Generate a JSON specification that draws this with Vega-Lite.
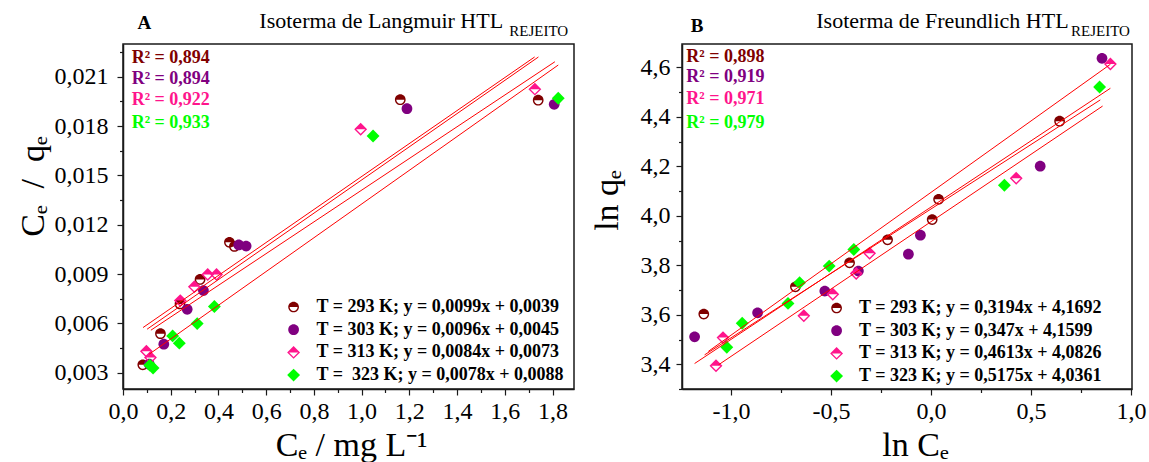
{
  "$schema": "https://vega.github.io/schema/vega-lite/v6.json",
  "background": "white",
  "padding": {"left": 15, "top": 9, "right": 5, "bottom": 0},
  "spacing": 14,
  "config": {
    "font": "Liberation Serif",
    "view": {"stroke": "#1a1a1a", "strokeWidth": 1.5},
    "axis": {"labelFont": "Liberation Serif", "labelFontSize": 24, "labelColor": "#000", "titleFont": "Liberation Serif", "titleFontSize": 34, "titleFontWeight": "normal", "titleColor": "#000", "tickColor": "#1a1a1a", "domainColor": "#1a1a1a", "domainWidth": 1.5, "tickWidth": 1.2, "grid": false, "labelOverlap": false, "labelFlush": false, "tickSize": 6}
  },
  "datasets": {
    "langmuir": [
      {"T": "293 K", "x": 0.083, "y": 0.00347}, {"T": "293 K", "x": 0.157, "y": 0.00537}, {"T": "293 K", "x": 0.239, "y": 0.00718}, {"T": "293 K", "x": 0.323, "y": 0.00867},
      {"T": "293 K", "x": 0.446, "y": 0.01093}, {"T": "293 K", "x": 0.467, "y": 0.01068}, {"T": "293 K", "x": 1.162, "y": 0.01961}, {"T": "293 K", "x": 1.740, "y": 0.01958},
      {"T": "303 K", "x": 0.110, "y": 0.00351}, {"T": "303 K", "x": 0.171, "y": 0.00473}, {"T": "303 K", "x": 0.269, "y": 0.00685}, {"T": "303 K", "x": 0.337, "y": 0.00799},
      {"T": "303 K", "x": 0.485, "y": 0.01077}, {"T": "303 K", "x": 0.516, "y": 0.0107}, {"T": "303 K", "x": 1.190, "y": 0.01906}, {"T": "303 K", "x": 1.807, "y": 0.01933},
      {"T": "313 K", "x": 0.098, "y": 0.0043}, {"T": "313 K", "x": 0.115, "y": 0.00392}, {"T": "313 K", "x": 0.240, "y": 0.00738}, {"T": "313 K", "x": 0.299, "y": 0.00823},
      {"T": "313 K", "x": 0.355, "y": 0.00897}, {"T": "313 K", "x": 0.392, "y": 0.00897}, {"T": "313 K", "x": 0.996, "y": 0.01781}, {"T": "313 K", "x": 1.726, "y": 0.02025},
      {"T": "323 K", "x": 0.112, "y": 0.00345}, {"T": "323 K", "x": 0.126, "y": 0.00328}, {"T": "323 K", "x": 0.208, "y": 0.00523}, {"T": "323 K", "x": 0.236, "y": 0.00479},
      {"T": "323 K", "x": 0.311, "y": 0.00598}, {"T": "323 K", "x": 0.383, "y": 0.00702}, {"T": "323 K", "x": 1.048, "y": 0.0174}, {"T": "323 K", "x": 1.824, "y": 0.0197}
    ],
    "freundlich": [
      {"T": "293 K", "x": -1.136, "y": 3.603}, {"T": "293 K", "x": -0.678, "y": 3.713}, {"T": "293 K", "x": -0.407, "y": 3.810}, {"T": "293 K", "x": -0.217, "y": 3.903},
      {"T": "293 K", "x": 0.006, "y": 3.985}, {"T": "293 K", "x": 0.038, "y": 4.067}, {"T": "293 K", "x": 0.643, "y": 4.383},
      {"T": "303 K", "x": -1.182, "y": 3.511}, {"T": "303 K", "x": -0.867, "y": 3.608}, {"T": "303 K", "x": -0.531, "y": 3.696}, {"T": "303 K", "x": -0.363, "y": 3.777},
      {"T": "303 K", "x": -0.113, "y": 3.845}, {"T": "303 K", "x": -0.053, "y": 3.922}, {"T": "303 K", "x": 0.546, "y": 4.201}, {"T": "303 K", "x": 0.855, "y": 4.637},
      {"T": "313 K", "x": -1.075, "y": 3.394}, {"T": "313 K", "x": -1.04, "y": 3.508}, {"T": "313 K", "x": -0.636, "y": 3.596}, {"T": "313 K", "x": -0.491, "y": 3.683},
      {"T": "313 K", "x": -0.374, "y": 3.767}, {"T": "313 K", "x": -0.307, "y": 3.849}, {"T": "313 K", "x": 0.426, "y": 4.152}, {"T": "313 K", "x": 0.897, "y": 4.614},
      {"T": "323 K", "x": -1.021, "y": 3.469}, {"T": "323 K", "x": -0.944, "y": 3.566}, {"T": "323 K", "x": -0.715, "y": 3.646}, {"T": "323 K", "x": -0.657, "y": 3.730},
      {"T": "323 K", "x": -0.509, "y": 3.797}, {"T": "323 K", "x": -0.386, "y": 3.864}, {"T": "323 K", "x": 0.367, "y": 4.124}, {"T": "323 K", "x": 0.843, "y": 4.521}
    ],
    "fitA": [
      {"fit": "293 K", "x": 0.084, "y": 0.00574}, {"fit": "293 K", "x": 1.725, "y": 0.02221},
      {"fit": "313 K", "x": 0.101, "y": 0.00564}, {"fit": "313 K", "x": 1.741, "y": 0.02221},
      {"fit": "303 K", "x": 0.117, "y": 0.00558}, {"fit": "303 K", "x": 1.810, "y": 0.02192},
      {"fit": "323 K", "x": 0.110, "y": 0.00412}, {"fit": "323 K", "x": 1.824, "y": 0.02172}
    ],
    "fitB": [
      {"fit": "303 K", "x": -1.1135, "y": 3.452}, {"fit": "303 K", "x": 0.897, "y": 4.613},
      {"fit": "293 K", "x": -1.182, "y": 3.403}, {"fit": "293 K", "x": 0.897, "y": 4.516},
      {"fit": "323 K", "x": -1.132, "y": 3.438}, {"fit": "323 K", "x": 0.8465, "y": 4.469},
      {"fit": "313 K", "x": -1.062, "y": 3.398}, {"fit": "313 K", "x": 0.858, "y": 4.444}
    ],
    "legA": [
      {"T": "293 K", "label": "T = 293 K; y = 0,0099x + 0,0039", "r2": "R² = 0,894"},
      {"T": "303 K", "label": "T = 303 K; y = 0,0096x + 0,0045", "r2": "R² = 0,894"},
      {"T": "313 K", "label": "T = 313 K; y = 0,0084x + 0,0073", "r2": "R² = 0,922"},
      {"T": "323 K", "label": "T =\u00a0 323 K; y = 0,0078x + 0,0088", "r2": "R² = 0,933"}
    ],
    "legB": [
      {"T": "293 K", "label": "T = 293 K; y = 0,3194x + 4,1692", "r2": "R² = 0,898"},
      {"T": "303 K", "label": "T = 303 K; y = 0,347x + 4,1599", "r2": "R² = 0,919"},
      {"T": "313 K", "label": "T = 313 K; y = 0,4613x + 4,0826", "r2": "R² = 0,971"},
      {"T": "323 K", "label": "T = 323 K; y = 0,5175x + 4,0361", "r2": "R² = 0,979"}
    ],
    "ttl": [
      {"panel": "A", "letter": "A", "title": "Isoterma de Langmuir HTL", "sub": "REJEITO"},
      {"panel": "B", "letter": "B", "title": "Isoterma de Freundlich HTL", "sub": "REJEITO"}
    ]
  },
  "resolve": {"scale": {"x": "independent", "y": "independent", "color": "independent", "shape": "independent"}, "legend": {"color": "independent", "shape": "independent"}},
  "hconcat": [
    {
      "width": 451, "height": 345,
      "resolve": {"axis": {"x": "independent", "y": "independent"}},
      "layer": [
        {
          "data": {"name": "langmuir"},
          "transform": [{"lookup": "T", "from": {"data": {"name": "legA"}, "key": "T", "fields": ["label"]}}],
          "mark": {"type": "point", "filled": true, "size": 115, "opacity": 1, "strokeWidth": 0},
          "encoding": {
            "x": {"field": "x", "type": "quantitative", "scale": {"domain": [0, 1.89], "nice": false, "zero": false},
                  "axis": {"values": [0, 0.2, 0.4, 0.6, 0.8, 1.0, 1.2, 1.4, 1.6, 1.8], "labelExpr": "replace(format(datum.value, '.1f'), '.', ',')", "title": "Cₑ\u00a0/ mg L⁻¹", "labelPadding": 4, "titlePadding": 5, "titleX": 228}},
            "y": {"field": "y", "type": "quantitative", "scale": {"domain": [0.002, 0.023], "nice": false, "zero": false},
                  "axis": {"values": [0.003, 0.006, 0.009, 0.012, 0.015, 0.018, 0.021], "labelExpr": "replace(format(datum.value, '.3f'), '.', ',')", "title": "Cₑ\u00a0 / \u00a0qₑ", "labelPadding": 9, "titlePadding": 4, "titleY": 142}},
            "color": {"field": "label", "type": "nominal",
                      "scale": {"domain": ["T = 293 K; y = 0,0099x + 0,0039", "T = 303 K; y = 0,0096x + 0,0045", "T = 313 K; y = 0,0084x + 0,0073", "T =\u00a0 323 K; y = 0,0078x + 0,0088"], "range": ["#800000", "#800080", "#FF148C", "#00FF00"]},
                      "legend": {"title": null, "orient": "none", "legendX": 161.6, "legendY": 254, "labelFont": "Liberation Serif", "labelFontSize": 18, "labelFontWeight": "bold", "labelColor": "#000", "labelLimit": 600, "labelOffset": 14, "rowPadding": 4.7, "symbolSize": 115, "symbolStrokeWidth": 0, "padding": 0}},
            "shape": {"field": "label", "type": "nominal",
                      "scale": {"domain": ["T = 293 K; y = 0,0099x + 0,0039", "T = 303 K; y = 0,0096x + 0,0045", "T = 313 K; y = 0,0084x + 0,0073", "T =\u00a0 323 K; y = 0,0078x + 0,0088"],
                                "range": ["M-1,0A1,1,0,0,1,1,0Z M1,0A1,1,0,0,1,-1,0L-0.74,0A0.74,0.74,0,0,0,0.74,0Z", "M-1,0A1,1,0,1,1,1,0A1,1,0,1,1,-1,0Z", "M-1.2,0L0,-1.2L1.2,0Z M1.2,0L0,1.2L-1.2,0L-0.84,0L0,0.84L0.84,0Z", "M0,-1.2L1.2,0L0,1.2L-1.2,0Z"]},
                      "legend": {"title": null, "orient": "none", "legendX": 161.6, "legendY": 254, "labelFont": "Liberation Serif", "labelFontSize": 18, "labelFontWeight": "bold", "labelColor": "#000", "labelLimit": 600, "labelOffset": 14, "rowPadding": 4.7, "symbolSize": 115, "symbolStrokeWidth": 0, "padding": 0}}
          }
        },
        {
          "data": {"name": "fitA"},
          "mark": {"type": "line", "color": "#FF0000", "strokeWidth": 1},
          "encoding": {
            "x": {"field": "x", "type": "quantitative", "scale": {"domain": [0, 1.89], "nice": false, "zero": false},
                  "axis": {"orient": "bottom", "values": [0.1, 0.3, 0.5, 0.7, 0.9, 1.1, 1.3, 1.5, 1.7], "labels": false, "domain": false, "tickSize": 3.5, "title": null}},
            "y": {"field": "y", "type": "quantitative", "scale": {"domain": [0.002, 0.023], "nice": false, "zero": false},
                  "axis": {"orient": "left", "values": [0.0045, 0.0075, 0.0105, 0.0135, 0.0165, 0.0195, 0.0225], "labels": false, "domain": false, "tickSize": 3.5, "title": null}},
            "detail": {"field": "fit"}
          }
        },
        {
          "data": {"name": "legA"}, "transform": [{"filter": "datum.T == '293 K'"}],
          "mark": {"type": "text", "align": "left", "baseline": "middle", "font": "Liberation Serif", "fontSize": 18, "fontWeight": "bold", "color": "#800000"},
          "encoding": {"x": {"datum": 0.0365, "type": "quantitative", "scale": {"domain": [0, 1.89], "nice": false, "zero": false}, "axis": null},
                       "y": {"datum": 0.02217, "type": "quantitative", "scale": {"domain": [0.002, 0.023], "nice": false, "zero": false}, "axis": null},
                       "text": {"field": "r2"}}
        },
        {
          "data": {"name": "legA"}, "transform": [{"filter": "datum.T == '303 K'"}],
          "mark": {"type": "text", "align": "left", "baseline": "middle", "font": "Liberation Serif", "fontSize": 18, "fontWeight": "bold", "color": "#800080"},
          "encoding": {"x": {"datum": 0.0365, "type": "quantitative", "scale": {"domain": [0, 1.89], "nice": false, "zero": false}, "axis": null},
                       "y": {"datum": 0.0209, "type": "quantitative", "scale": {"domain": [0.002, 0.023], "nice": false, "zero": false}, "axis": null},
                       "text": {"field": "r2"}}
        },
        {
          "data": {"name": "legA"}, "transform": [{"filter": "datum.T == '313 K'"}],
          "mark": {"type": "text", "align": "left", "baseline": "middle", "font": "Liberation Serif", "fontSize": 18, "fontWeight": "bold", "color": "#FF148C"},
          "encoding": {"x": {"datum": 0.0365, "type": "quantitative", "scale": {"domain": [0, 1.89], "nice": false, "zero": false}, "axis": null},
                       "y": {"datum": 0.01959, "type": "quantitative", "scale": {"domain": [0.002, 0.023], "nice": false, "zero": false}, "axis": null},
                       "text": {"field": "r2"}}
        },
        {
          "data": {"name": "legA"}, "transform": [{"filter": "datum.T == '323 K'"}],
          "mark": {"type": "text", "align": "left", "baseline": "middle", "font": "Liberation Serif", "fontSize": 18, "fontWeight": "bold", "color": "#00FF00"},
          "encoding": {"x": {"datum": 0.0365, "type": "quantitative", "scale": {"domain": [0, 1.89], "nice": false, "zero": false}, "axis": null},
                       "y": {"datum": 0.01821, "type": "quantitative", "scale": {"domain": [0.002, 0.023], "nice": false, "zero": false}, "axis": null},
                       "text": {"field": "r2"}}
        },
        {
          "data": {"name": "ttl"}, "transform": [{"filter": "datum.panel == 'A'"}],
          "mark": {"type": "text", "align": "center", "baseline": "middle", "font": "Liberation Serif", "fontSize": 19, "fontWeight": "bold", "color": "#000"},
          "encoding": {"x": {"datum": 0.089, "type": "quantitative", "scale": {"domain": [0, 1.89], "nice": false, "zero": false}, "axis": null},
                       "y": {"datum": 0.0243, "type": "quantitative", "scale": {"domain": [0.002, 0.023], "nice": false, "zero": false}, "axis": null},
                       "text": {"field": "letter"}}
        },
        {
          "data": {"name": "ttl"}, "transform": [{"filter": "datum.panel == 'A'"}],
          "mark": {"type": "text", "align": "right", "baseline": "middle", "font": "Liberation Serif", "fontSize": 22, "color": "#000"},
          "encoding": {"x": {"datum": 1.593, "type": "quantitative", "scale": {"domain": [0, 1.89], "nice": false, "zero": false}, "axis": null},
                       "y": {"datum": 0.0244, "type": "quantitative", "scale": {"domain": [0.002, 0.023], "nice": false, "zero": false}, "axis": null},
                       "text": {"field": "title"}}
        },
        {
          "data": {"name": "ttl"}, "transform": [{"filter": "datum.panel == 'A'"}],
          "mark": {"type": "text", "align": "left", "baseline": "middle", "font": "Liberation Serif", "fontSize": 15, "color": "#000"},
          "encoding": {"x": {"datum": 1.6185, "type": "quantitative", "scale": {"domain": [0, 1.89], "nice": false, "zero": false}, "axis": null},
                       "y": {"datum": 0.0238, "type": "quantitative", "scale": {"domain": [0.002, 0.023], "nice": false, "zero": false}, "axis": null},
                       "text": {"field": "sub"}}
        }
      ]
    },
    {
      "width": 450, "height": 345,
      "resolve": {"axis": {"x": "independent", "y": "independent"}},
      "layer": [
        {
          "data": {"name": "freundlich"},
          "transform": [{"lookup": "T", "from": {"data": {"name": "legB"}, "key": "T", "fields": ["label"]}}],
          "mark": {"type": "point", "filled": true, "size": 115, "opacity": 1, "strokeWidth": 0},
          "encoding": {
            "x": {"field": "x", "type": "quantitative", "scale": {"domain": [-1.245, 1.005], "nice": false, "zero": false},
                  "axis": {"values": [-1.0, -0.5, 0.0, 0.5, 1.0], "labelExpr": "replace(replace(format(datum.value, '.1f'), '.', ','), '−', '-')", "title": "ln Cₑ", "labelPadding": 4, "titlePadding": 5, "titleX": 233}},
            "y": {"field": "y", "type": "quantitative", "scale": {"domain": [3.3, 4.695], "nice": false, "zero": false},
                  "axis": {"values": [3.4, 3.6, 3.8, 4.0, 4.2, 4.4, 4.6], "labelExpr": "replace(format(datum.value, '.1f'), '.', ',')", "title": "ln qₑ", "labelPadding": 6, "titlePadding": 16, "titleY": 156}},
            "color": {"field": "label", "type": "nominal",
                      "scale": {"domain": ["T = 293 K; y = 0,3194x + 4,1692", "T = 303 K; y = 0,347x + 4,1599", "T = 313 K; y = 0,4613x + 4,0826", "T = 323 K; y = 0,5175x + 4,0361"], "range": ["#800000", "#800080", "#FF148C", "#00FF00"]},
                      "legend": {"title": null, "orient": "none", "legendX": 145.6, "legendY": 255, "labelFont": "Liberation Serif", "labelFontSize": 18, "labelFontWeight": "bold", "labelColor": "#000", "labelLimit": 600, "labelOffset": 13.5, "rowPadding": 4.7, "symbolSize": 115, "symbolStrokeWidth": 0, "padding": 0}},
            "shape": {"field": "label", "type": "nominal",
                      "scale": {"domain": ["T = 293 K; y = 0,3194x + 4,1692", "T = 303 K; y = 0,347x + 4,1599", "T = 313 K; y = 0,4613x + 4,0826", "T = 323 K; y = 0,5175x + 4,0361"],
                                "range": ["M-1,0A1,1,0,0,1,1,0Z M1,0A1,1,0,0,1,-1,0L-0.74,0A0.74,0.74,0,0,0,0.74,0Z", "M-1,0A1,1,0,1,1,1,0A1,1,0,1,1,-1,0Z", "M-1.2,0L0,-1.2L1.2,0Z M1.2,0L0,1.2L-1.2,0L-0.84,0L0,0.84L0.84,0Z", "M0,-1.2L1.2,0L0,1.2L-1.2,0Z"]},
                      "legend": {"title": null, "orient": "none", "legendX": 145.6, "legendY": 255, "labelFont": "Liberation Serif", "labelFontSize": 18, "labelFontWeight": "bold", "labelColor": "#000", "labelLimit": 600, "labelOffset": 13.5, "rowPadding": 4.7, "symbolSize": 115, "symbolStrokeWidth": 0, "padding": 0}}
          }
        },
        {
          "data": {"name": "fitB"},
          "mark": {"type": "line", "color": "#FF0000", "strokeWidth": 1},
          "encoding": {
            "x": {"field": "x", "type": "quantitative", "scale": {"domain": [-1.245, 1.005], "nice": false, "zero": false},
                  "axis": {"orient": "bottom", "values": [-0.75, -0.25, 0.25, 0.75], "labels": false, "domain": false, "tickSize": 3.5, "title": null}},
            "y": {"field": "y", "type": "quantitative", "scale": {"domain": [3.3, 4.695], "nice": false, "zero": false},
                  "axis": {"orient": "left", "values": [3.3, 3.5, 3.7, 3.9, 4.1, 4.3, 4.5], "labels": false, "domain": false, "tickSize": 3.5, "title": null}},
            "detail": {"field": "fit"}
          }
        },
        {
          "data": {"name": "legB"}, "transform": [{"filter": "datum.T == '293 K'"}],
          "mark": {"type": "text", "align": "left", "baseline": "middle", "font": "Liberation Serif", "fontSize": 18, "fontWeight": "bold", "color": "#800000"},
          "encoding": {"x": {"datum": -1.2235, "type": "quantitative", "scale": {"domain": [-1.245, 1.005], "nice": false, "zero": false}, "axis": null},
                       "y": {"datum": 4.642, "type": "quantitative", "scale": {"domain": [3.3, 4.695], "nice": false, "zero": false}, "axis": null},
                       "text": {"field": "r2"}}
        },
        {
          "data": {"name": "legB"}, "transform": [{"filter": "datum.T == '303 K'"}],
          "mark": {"type": "text", "align": "left", "baseline": "middle", "font": "Liberation Serif", "fontSize": 18, "fontWeight": "bold", "color": "#800080"},
          "encoding": {"x": {"datum": -1.2235, "type": "quantitative", "scale": {"domain": [-1.245, 1.005], "nice": false, "zero": false}, "axis": null},
                       "y": {"datum": 4.562, "type": "quantitative", "scale": {"domain": [3.3, 4.695], "nice": false, "zero": false}, "axis": null},
                       "text": {"field": "r2"}}
        },
        {
          "data": {"name": "legB"}, "transform": [{"filter": "datum.T == '313 K'"}],
          "mark": {"type": "text", "align": "left", "baseline": "middle", "font": "Liberation Serif", "fontSize": 18, "fontWeight": "bold", "color": "#FF148C"},
          "encoding": {"x": {"datum": -1.2235, "type": "quantitative", "scale": {"domain": [-1.245, 1.005], "nice": false, "zero": false}, "axis": null},
                       "y": {"datum": 4.472, "type": "quantitative", "scale": {"domain": [3.3, 4.695], "nice": false, "zero": false}, "axis": null},
                       "text": {"field": "r2"}}
        },
        {
          "data": {"name": "legB"}, "transform": [{"filter": "datum.T == '323 K'"}],
          "mark": {"type": "text", "align": "left", "baseline": "middle", "font": "Liberation Serif", "fontSize": 18, "fontWeight": "bold", "color": "#00FF00"},
          "encoding": {"x": {"datum": -1.2235, "type": "quantitative", "scale": {"domain": [-1.245, 1.005], "nice": false, "zero": false}, "axis": null},
                       "y": {"datum": 4.377, "type": "quantitative", "scale": {"domain": [3.3, 4.695], "nice": false, "zero": false}, "axis": null},
                       "text": {"field": "r2"}}
        },
        {
          "data": {"name": "ttl"}, "transform": [{"filter": "datum.panel == 'B'"}],
          "mark": {"type": "text", "align": "center", "baseline": "middle", "font": "Liberation Serif", "fontSize": 19, "fontWeight": "bold", "color": "#000"},
          "encoding": {"x": {"datum": -1.17, "type": "quantitative", "scale": {"domain": [-1.245, 1.005], "nice": false, "zero": false}, "axis": null},
                       "y": {"datum": 4.768, "type": "quantitative", "scale": {"domain": [3.3, 4.695], "nice": false, "zero": false}, "axis": null},
                       "text": {"field": "letter"}}
        },
        {
          "data": {"name": "ttl"}, "transform": [{"filter": "datum.panel == 'B'"}],
          "mark": {"type": "text", "align": "right", "baseline": "middle", "font": "Liberation Serif", "fontSize": 22, "color": "#000"},
          "encoding": {"x": {"datum": 0.688, "type": "quantitative", "scale": {"domain": [-1.245, 1.005], "nice": false, "zero": false}, "axis": null},
                       "y": {"datum": 4.788, "type": "quantitative", "scale": {"domain": [3.3, 4.695], "nice": false, "zero": false}, "axis": null},
                       "text": {"field": "title"}}
        },
        {
          "data": {"name": "ttl"}, "transform": [{"filter": "datum.panel == 'B'"}],
          "mark": {"type": "text", "align": "left", "baseline": "middle", "font": "Liberation Serif", "fontSize": 15, "color": "#000"},
          "encoding": {"x": {"datum": 0.70, "type": "quantitative", "scale": {"domain": [-1.245, 1.005], "nice": false, "zero": false}, "axis": null},
                       "y": {"datum": 4.747, "type": "quantitative", "scale": {"domain": [3.3, 4.695], "nice": false, "zero": false}, "axis": null},
                       "text": {"field": "sub"}}
        }
      ]
    }
  ]
}
